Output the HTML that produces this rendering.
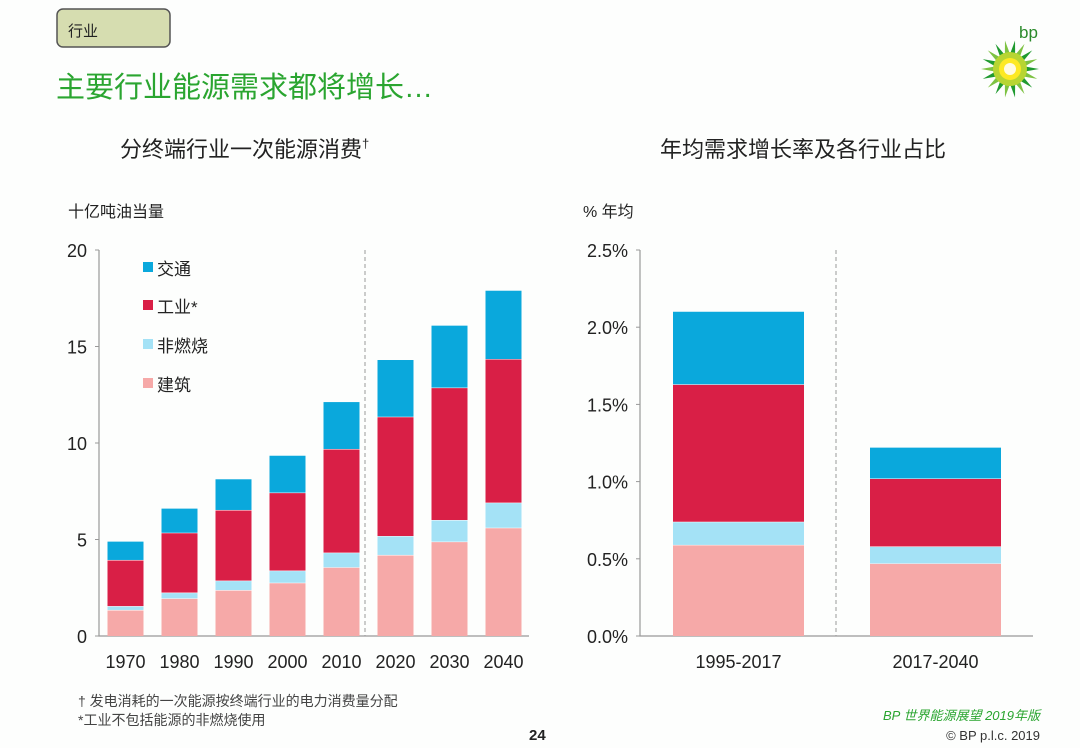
<!DOCTYPE html>
<html><head><meta charset="utf-8"><style>
body{margin:0;background:#fff;}
svg{display:block;font-family:"Liberation Sans","Noto Sans CJK SC",sans-serif;}
</style></head><body>
<svg id="s" width="1080" height="748" viewBox="0 0 1080 748" xmlns="http://www.w3.org/2000/svg">
<rect width="1080" height="748" fill="#fdfefd"/>
<g>
<rect x="57" y="9" width="113" height="38" rx="6" fill="#d6ddb0" stroke="#555" stroke-width="1.5"/>
<text x="68" y="36" font-size="15" fill="#222">行业</text></g>
<text x="56" y="97" font-size="29" fill="#2aa530">主要行业能源需求都将增长…</text>
<g>
<text x="1019" y="38" font-size="17" fill="#2a8a2a">bp</text>
<g id="sun"></g></g>
<text x="120" y="157" font-size="22" fill="#222">分终端行业一次能源消费<tspan font-size="13" dy="-9">†</tspan></text>
<text x="660" y="157" font-size="22" fill="#222">年均需求增长率及各行业占比</text>
<text x="68" y="217" font-size="16" fill="#222">十亿吨油当量</text>
<text x="583" y="217" font-size="16" fill="#222">% 年均</text>
<g id="left"></g><g id="right"></g>
<g>
<rect x="143" y="262" width="10" height="10" fill="#0aa8dc"/><text x="157" y="275" font-size="17" fill="#222">交通</text>
<rect x="143" y="300" width="10" height="10" fill="#d91f46"/><text x="157" y="313" font-size="17" fill="#222">工业*</text>
<rect x="143" y="339" width="10" height="10" fill="#a4e2f6"/><text x="157" y="352" font-size="17" fill="#222">非燃烧</text>
<rect x="143" y="378" width="10" height="10" fill="#f6a9a8"/><text x="157" y="391" font-size="17" fill="#222">建筑</text>
</g>
<text x="78" y="706" font-size="14" fill="#444">† 发电消耗的一次能源按终端行业的电力消费量分配</text>
<text x="78" y="725" font-size="14" fill="#444">*工业不包括能源的非燃烧使用</text>
<text x="529" y="740" font-size="15" font-weight="bold" fill="#222">24</text>
<text x="1040" y="720" font-size="13" fill="#2aa530" text-anchor="end" font-style="italic">BP 世界能源展望 2019年版</text>
<text x="1040" y="740" font-size="13" fill="#333" text-anchor="end">© BP p.l.c. 2019</text>
</svg>
<script>
const NS='http://www.w3.org/2000/svg';
const years=['1970','1980','1990','2000','2010','2020','2030','2040'];
const buildings=[1.35,1.95,2.38,2.76,3.56,4.2,4.89,5.61];
const nonCombusted=[0.2,0.3,0.49,0.63,0.76,0.98,1.12,1.3];
const industry=[2.39,3.1,3.66,4.04,5.37,6.18,6.86,7.44];
const transport=[0.95,1.25,1.59,1.91,2.43,2.94,3.21,3.54];
const leftTicks=[0,5,10,15,20];
const periods=['1995-2017','2017-2040'];
const gBuildings=[0.59,0.47];
const gNonCombusted=[0.15,0.11];
const gIndustry=[0.89,0.44];
const gTransport=[0.47,0.2];
const rightTicks=['0.0%','0.5%','1.0%','1.5%','2.0%','2.5%'];
const rightTickVals=[0,0.5,1,1.5,2,2.5];
const colors=['#f6a9a8','#a4e2f6','#d91f46','#0aa8dc'];
const segNames=['buildings','non-combusted','industry','transport'];
function el(t,a,p){const e=document.createElementNS(NS,t);for(const k in a)e.setAttribute(k,a[k]);p.appendChild(e);return e;}
function chart(g,cats,series,ticks,tickVals,x0,x1,yMax,bandStart,band,bw,dashX,pref){
 const y=v=>636-v/yMax*386;
 const ax=el('path',{d:`M${x0} 250V636H${x1}`,stroke:'#999',fill:'none','stroke-width':1.2},g);
 
 tickVals.forEach((v,i)=>{const t=el('text',{x:x0-12,y:y(v)+7,'font-size':18,'text-anchor':'end',fill:'#222'},g);t.textContent=ticks[i];
  
  el('line',{x1:x0-4,x2:x0,y1:y(v),y2:y(v),stroke:'#999'},g);});
 const d=el('line',{x1:dashX,x2:dashX,y1:250,y2:636,stroke:'#999','stroke-dasharray':'4,3'},g);
 
 cats.forEach((c,i)=>{const cx=bandStart+band*i;let acc=0;
  series.forEach((s,k)=>{const r=el('rect',{x:cx-bw/2,y:y(acc+s[i]),width:bw,height:y(acc)-y(acc+s[i]),fill:colors[k]},g);
   
   acc+=s[i];
   if(k<series.length-1) el('line',{x1:cx-bw/2,x2:cx+bw/2,y1:y(acc),y2:y(acc),stroke:'#fff','stroke-width':1},g);});
  const t=el('text',{x:cx,y:668,'font-size':18,'text-anchor':'middle',fill:'#222'},g);t.textContent=c;
  });
}
chart(document.getElementById('left'),years,[buildings,nonCombusted,industry,transport],leftTicks.map(String),leftTicks,99,529,20,125.5,54,36,365,'left');
chart(document.getElementById('right'),periods,[gBuildings,gNonCombusted,gIndustry,gTransport],rightTicks,rightTickVals,640,1033,2.5,738.5,197,131,836,'right');
// bp helios logo
const sun=document.getElementById('sun');
for(let i=0;i<18;i++){const a=i*20*Math.PI/180;const cx=1010,cy=69;
 const p=el('polygon',{points:`${cx+Math.cos(a-0.2)*14},${cy+Math.sin(a-0.2)*14} ${cx+Math.cos(a)*29},${cy+Math.sin(a)*29} ${cx+Math.cos(a+0.2)*14},${cy+Math.sin(a+0.2)*14}`,fill:i%2?'#7dc242':'#1f9a2f'},sun);}
el('circle',{cx:1010,cy:69,r:17,fill:'#b7d533'},sun);
el('circle',{cx:1010,cy:69,r:11,fill:'#fde923'},sun);
el('circle',{cx:1010,cy:69,r:6,fill:'#fffbe0'},sun);
</script>
</body></html>
